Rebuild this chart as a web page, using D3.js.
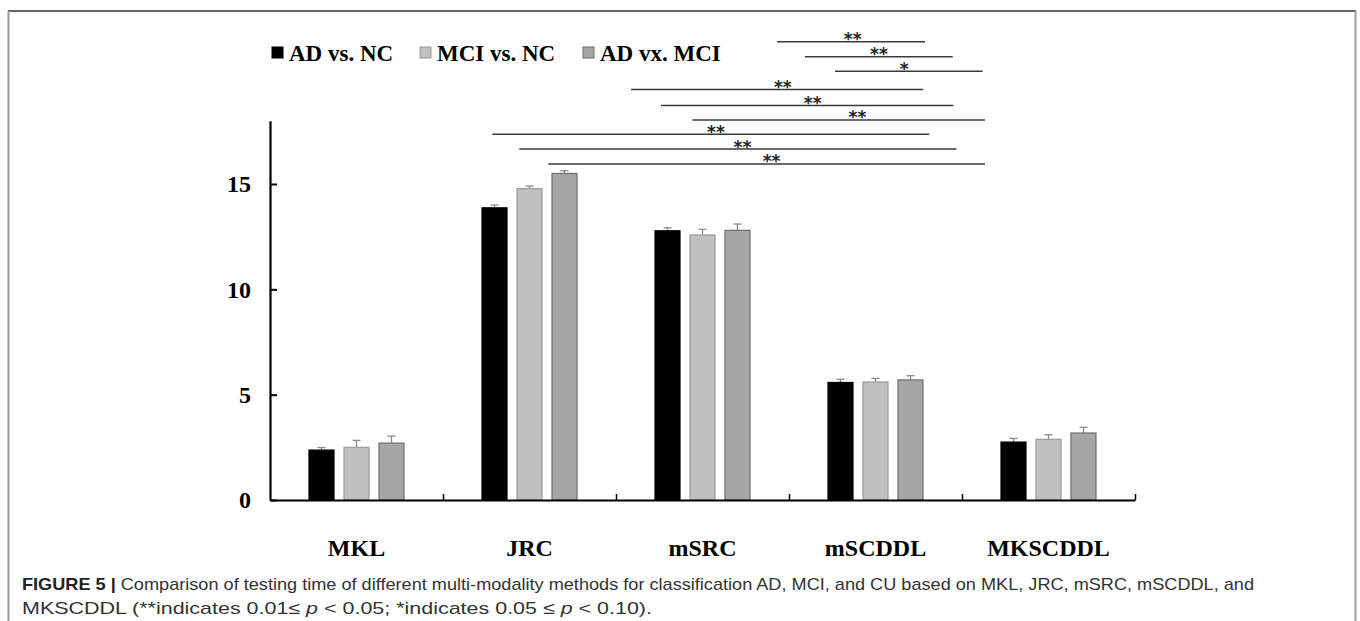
<!DOCTYPE html>
<html><head><meta charset="utf-8">
<script src="https://cdn.jsdelivr.net/npm/d3@7"></script>
<style>
html,body{margin:0;padding:0;background:#fff;}
svg{display:block;}
</style></head>
<body>
<svg id="chart" width="1360" height="621"></svg>
<script>
const categories = ["MKL", "JRC", "mSRC", "mSCDDL", "MKSCDDL"];
const seriesNames = ["AD vs. NC", "MCI vs. NC", "AD vx. MCI"];
const adVsNc = [2.37, 13.87, 12.78, 5.58, 2.75];
const mciVsNc = [2.5, 14.78, 12.58, 5.6, 2.88];
const adVsMci = [2.7, 15.5, 12.8, 5.7, 3.18];
const adVsNcErr = [0.12, 0.13, 0.14, 0.15, 0.17];
const mciVsNcErr = [0.33, 0.12, 0.27, 0.17, 0.22];
const adVsMciErr = [0.33, 0.13, 0.3, 0.2, 0.27];
const yTicks = [0, 5, 10, 15];
// significance brackets: start/end in category-index units, level in value units
const bracketStart = [2.931, 3.092, 3.266, 2.087, 2.260, 2.443, 1.285, 1.441, 1.609];
const bracketEnd   = [3.786, 3.946, 4.119, 3.776, 3.950, 4.133, 3.811, 3.968, 4.133];
const bracketLevel = [21.75, 21.04, 20.35, 19.49, 18.73, 18.04, 17.36, 16.66, 15.95];
const bracketMark  = [3.368, 3.520, 3.666, 2.964, 3.137, 3.396, 2.578, 2.731, 2.899];
const bracketLabel = ["**", "**", "*", "**", "**", "**", "**", "**", "**"];
const captionLine1 = "Comparison of testing time of different multi-modality methods for classification AD, MCI, and CU based on MKL, JRC, mSRC, mSCDDL, and";

const seriesValues = [adVsNc, mciVsNc, adVsMci];
const seriesErrs = [adVsNcErr, mciVsNcErr, adVsMciErr];
const fills = ["#000000", "#c0c0c0", "#a6a6a6"];
const strokes = ["#000000", "#9a9a9a", "#6e6e6e"];
const serif = "'Liberation Serif','Times New Roman',serif";
const sans = "'Liberation Sans',Arial,sans-serif";

const svg = d3.select("#chart");

// frame
svg.append("line").attr("x1", 8).attr("x2", 1356).attr("y1", 11).attr("y2", 11)
  .attr("stroke", "#333").attr("stroke-width", 1.5);
svg.append("line").attr("x1", 8.5).attr("x2", 8.5).attr("y1", 11).attr("y2", 621)
  .attr("stroke", "#9a9a9a").attr("stroke-width", 2);
svg.append("line").attr("x1", 1355.5).attr("x2", 1355.5).attr("y1", 11).attr("y2", 621)
  .attr("stroke", "#9a9a9a").attr("stroke-width", 2);

const x0 = 270, x1 = 1135;
const x = d3.scaleBand().domain(categories).range([x0, x1]);
const xc = d3.scaleLinear().domain([0, categories.length]).range([x0, x1]);
const xs = d3.scaleBand().domain(seriesNames).range([-48, 48]).paddingInner(9 / 35);
const y = d3.scaleLinear().domain([0, 18]).range([500, 500 - 18 * 21.067]);

// bars
const rows = [];
categories.forEach((c, i) => seriesNames.forEach((s, j) => {
  rows.push({ c, s, j, v: seriesValues[j][i], e: seriesErrs[j][i] });
}));
const g = svg.append("g");
const cx = d => x(d.c) + x.bandwidth() / 2 + xs(d.s) + xs.bandwidth() / 2;
// error bars (upper only)
const eb = g.selectAll("g.err").data(rows).enter().append("g")
  .attr("stroke", "#8a8a8a").attr("stroke-width", 1.3);
eb.append("line").attr("x1", cx).attr("x2", cx)
  .attr("y1", d => y(d.v)).attr("y2", d => y(d.v + d.e));
eb.append("line").attr("x1", d => cx(d) - 4).attr("x2", d => cx(d) + 4)
  .attr("y1", d => y(d.v + d.e)).attr("y2", d => y(d.v + d.e));
g.selectAll("rect.bar").data(rows).enter().append("rect")
  .attr("x", d => x(d.c) + x.bandwidth() / 2 + xs(d.s) + 0.5)
  .attr("width", xs.bandwidth() - 1)
  .attr("y", d => y(d.v))
  .attr("height", d => y(0) - y(d.v))
  .attr("fill", d => fills[d.j])
  .attr("stroke", d => strokes[d.j]).attr("stroke-width", 1.2);

// y axis
const ya = svg.append("g").attr("transform", `translate(${x0},0)`)
  .call(d3.axisLeft(y).tickValues(yTicks).tickSizeInner(-7).tickSizeOuter(0).tickPadding(19));
ya.select(".domain").attr("stroke", "#000").attr("stroke-width", 2.2);
ya.selectAll(".tick line").attr("stroke", "#000").attr("stroke-width", 2);
ya.selectAll(".tick text").attr("font-family", serif).attr("font-weight", "bold")
  .attr("font-size", 24).attr("fill", "#000");

// x axis (ticks at category boundaries, pointing up)
const xa = svg.append("g").attr("transform", "translate(0,500)")
  .call(d3.axisBottom(xc).tickValues(d3.range(1, categories.length + 1)).tickSizeInner(-6).tickSizeOuter(0).tickFormat(""));
xa.select(".domain").attr("stroke", "#000").attr("stroke-width", 2);
xa.selectAll(".tick line").attr("stroke", "#000").attr("stroke-width", 1.5);
const xl = svg.append("g").attr("transform", "translate(0,500)")
  .call(d3.axisBottom(x).tickSize(0).tickPadding(39));
xl.select(".domain").remove();
xl.selectAll(".tick text").attr("font-family", serif).attr("font-weight", "bold")
  .attr("font-size", 24).attr("fill", "#000");

// significance brackets
const br = svg.append("g");
bracketStart.forEach((s, i) => {
  br.append("line").attr("x1", xc(s)).attr("x2", xc(bracketEnd[i]))
    .attr("y1", y(bracketLevel[i])).attr("y2", y(bracketLevel[i]))
    .attr("stroke", "#3a3a3a").attr("stroke-width", 1.5);
  br.append("text").attr("x", xc(bracketMark[i])).attr("y", y(bracketLevel[i]) + 3.5)
    .attr("text-anchor", "middle").attr("font-family", "'DejaVu Sans',sans-serif")
    .attr("font-weight", "bold").attr("font-size", 17).attr("fill", "#222")
    .text(bracketLabel[i]);
});

// legend
const legX = [272, 420, 583];
const lg = svg.append("g");
seriesNames.forEach((s, j) => {
  lg.append("rect").attr("x", legX[j]).attr("y", 47).attr("width", 11).attr("height", 11)
    .attr("fill", fills[j]).attr("stroke", strokes[j]).attr("stroke-width", 1);
  lg.append("text").attr("x", legX[j] + 17).attr("y", 61)
    .attr("font-family", serif).attr("font-weight", "bold").attr("font-size", 23)
    .attr("fill", "#000").text(s);
});

// caption
const cap = svg.append("g").attr("font-family", sans).attr("font-size", 17).attr("fill", "#333");
const t1 = cap.append("text").attr("x", 22).attr("y", 590)
  .attr("textLength", 1232).attr("lengthAdjust", "spacingAndGlyphs");
t1.append("tspan").attr("font-weight", "bold").attr("fill", "#222").text("FIGURE 5 | ");
t1.append("tspan").text(captionLine1);
const t2 = cap.append("text").attr("x", 22).attr("y", 614)
  .attr("textLength", 630).attr("lengthAdjust", "spacingAndGlyphs");
t2.append("tspan").text("MKSCDDL (**indicates 0.01\u2264 ");
t2.append("tspan").attr("font-style", "italic").text("p");
t2.append("tspan").text(" < 0.05; *indicates 0.05 \u2264 ");
t2.append("tspan").attr("font-style", "italic").text("p");
t2.append("tspan").text(" < 0.10).");
</script>
</body></html>
